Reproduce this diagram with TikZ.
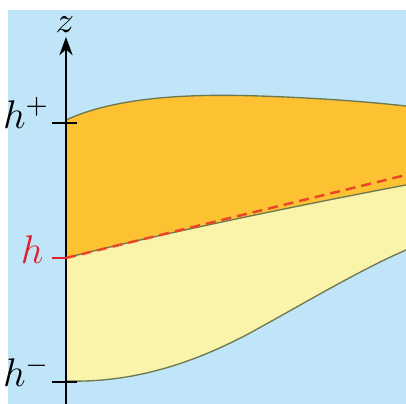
\documentclass[tikz,border=0pt]{standalone}
\usetikzlibrary{arrows.meta}
\definecolor{skyblue}{RGB}{192,228,248}
\definecolor{amber}{RGB}{252,194,50}
\definecolor{paleyellow}{RGB}{249,244,170}
\definecolor{edgegreen}{RGB}{110,120,80}
\definecolor{hred}{RGB}{222,32,44}
\definecolor{dashred}{RGB}{232,72,40}
\tikzset{
  interface/.style={edgegreen,line width=0.4pt},
  tick/.style={line width=0.5pt},
  lab/.style={font=\fontsize{12}{14}\selectfont},
}
\begin{document}
\begin{tikzpicture}[x=0.3pt,y=-0.3pt]
\useasboundingbox (0,0) rectangle (406,404);
\fill[white] (0,0) rectangle (406,404);
\fill[skyblue] (8,10) rectangle (406,404);
% layers
\fill[amber] (66,120) .. controls (120,95) and (200,94) .. (260,96)
  .. controls (320,98) and (370,102) .. (406,106) -- (406,185)
  .. controls (300,205) and (150,236) .. (66,258) -- cycle;
\fill[paleyellow] (66,258) .. controls (150,236) and (300,205) .. (406,185)
  -- (406,250) .. controls (360,270) and (310,300) .. (250,333)
  .. controls (190,365) and (130,383) .. (66,381) -- cycle;
\draw[interface] (66,120) .. controls (120,95) and (200,94) .. (260,96)
  .. controls (320,98) and (370,102) .. (406,106);
\draw[interface] (66,258) .. controls (150,236) and (300,205) .. (406,185);
\draw[interface] (66,381) .. controls (130,383) and (190,365) .. (250,333)
  .. controls (310,300) and (360,270) .. (406,250);
% axis
\coordinate (zfoot) at (66,404);
\coordinate (ztip) at (66,37);
\draw[line width=0.5pt,-{Stealth[length=5.5pt,width=4pt]}] (zfoot) -- (ztip);
\node[anchor=base,font=\fontsize{10.5}{12}\selectfont] (zlab) at (65,32) {$z$};
% levels
\coordinate (hpl) at (52,123); \coordinate (hpr) at (77,123);
\coordinate (hml) at (52,382); \coordinate (hmr) at (77,382);
\coordinate (hl) at (52,258); \coordinate (h0) at (66,258);
\coordinate (hend) at (406,175);
\draw[tick] (hpl) -- (hpr);
\draw[tick] (hml) -- (hmr);
\draw[hred,line width=0.6pt] (hl) -- (h0);
\draw[dashred,line width=0.75pt,dash pattern=on 3pt off 1.8pt] (h0) -- (hend);
\node[lab,anchor=base east,inner sep=0pt] (hplus) at (50,128) {$h^+$};
\node[lab,anchor=base east,inner sep=0pt] (hminus) at (50,387) {$h^-$};
\node[lab,anchor=base east,inner sep=0pt,text=hred] (hmid) at (44,263) {$h$};
\end{tikzpicture}
\end{document}
